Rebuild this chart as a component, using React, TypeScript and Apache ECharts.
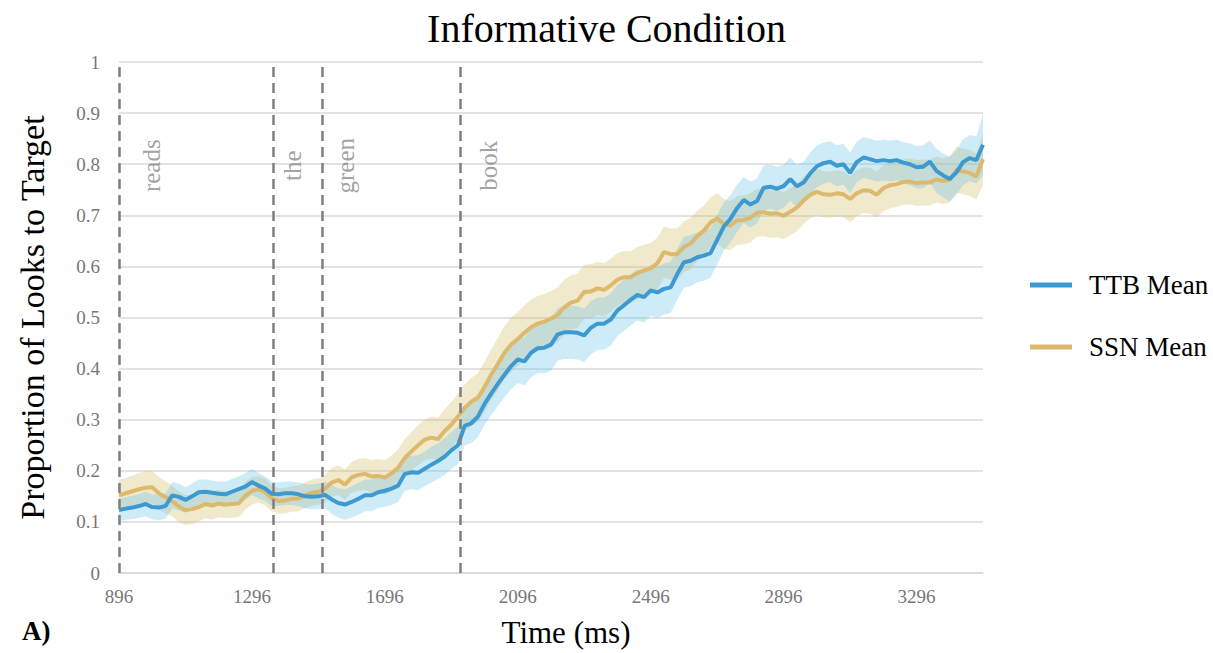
import React, { useEffect, useRef } from "react";
import * as echarts from "echarts";

const times = [
  896, 916, 936, 956, 976, 996, 1016, 1036, 1056, 1076, 1096, 1116, 1136, 1156, 1176, 1196, 1216, 1236, 1256, 1276, 1296,
  1316, 1336, 1356, 1376, 1396, 1416, 1436, 1456, 1476, 1496, 1516, 1536, 1556, 1576, 1596, 1616, 1636, 1656, 1676, 1696, 1716,
  1736, 1756, 1776, 1796, 1816, 1836, 1856, 1876, 1896, 1916, 1936, 1956, 1976, 1996, 2016, 2036, 2056, 2076, 2096, 2116, 2136,
  2156, 2176, 2196, 2216, 2236, 2256, 2276, 2296, 2316, 2336, 2356, 2376, 2396, 2416, 2436, 2456, 2476, 2496, 2516, 2536, 2556,
  2576, 2596, 2616, 2636, 2656, 2676, 2696, 2716, 2736, 2756, 2776, 2796, 2816, 2836, 2856, 2876, 2896, 2916, 2936, 2956, 2976,
  2996, 3016, 3036, 3056, 3076, 3096, 3116, 3136, 3156, 3176, 3196, 3216, 3236, 3256, 3276, 3296, 3316, 3336, 3356, 3376, 3396,
  3416, 3436, 3456, 3476, 3496,
];

const ttbMean = [
  0.123, 0.126, 0.128, 0.131, 0.135, 0.129, 0.128, 0.131, 0.152, 0.149, 0.143, 0.15, 0.158, 0.159, 0.157, 0.155, 0.154, 0.159, 0.164, 0.169, 0.178,
  0.171, 0.165, 0.155, 0.154, 0.156, 0.156, 0.154, 0.15, 0.149, 0.15, 0.153, 0.144, 0.137, 0.134, 0.139, 0.145, 0.152, 0.152, 0.158, 0.161, 0.165,
  0.171, 0.194, 0.197, 0.196, 0.204, 0.212, 0.219, 0.228, 0.24, 0.25, 0.288, 0.293, 0.306, 0.331, 0.351, 0.37, 0.388, 0.405, 0.418, 0.414, 0.431,
  0.44, 0.441, 0.447, 0.467, 0.471, 0.471, 0.47, 0.465, 0.48, 0.488, 0.488, 0.496, 0.514, 0.524, 0.535, 0.544, 0.54, 0.553, 0.549, 0.556, 0.559,
  0.585, 0.608, 0.611, 0.618, 0.621, 0.626, 0.652, 0.678, 0.693, 0.714, 0.73, 0.721, 0.728, 0.754, 0.756, 0.752, 0.757, 0.771, 0.757, 0.764, 0.782,
  0.796, 0.802, 0.805, 0.797, 0.8, 0.783, 0.804, 0.813, 0.81, 0.806, 0.808, 0.806, 0.808, 0.803, 0.8, 0.794, 0.795, 0.805, 0.787, 0.778, 0.771,
  0.784, 0.804, 0.812, 0.808, 0.838,
];

const ttbErr = [
  0.022, 0.022, 0.023, 0.023, 0.024, 0.024, 0.025, 0.025, 0.026, 0.026, 0.025, 0.025, 0.025, 0.024, 0.024, 0.024, 0.025, 0.025, 0.025, 0.026, 0.026,
  0.025, 0.024, 0.024, 0.023, 0.023, 0.023, 0.023, 0.024, 0.024, 0.025, 0.026, 0.028, 0.029, 0.03, 0.031, 0.031, 0.031, 0.031, 0.031, 0.031, 0.032,
  0.032, 0.033, 0.033, 0.034, 0.034, 0.035, 0.035, 0.036, 0.036, 0.037, 0.038, 0.039, 0.04, 0.041, 0.042, 0.043, 0.044, 0.045, 0.046, 0.047, 0.048,
  0.049, 0.05, 0.051, 0.051, 0.052, 0.052, 0.052, 0.052, 0.052, 0.051, 0.051, 0.051, 0.05, 0.05, 0.05, 0.05, 0.05, 0.05, 0.05, 0.05, 0.05,
  0.05, 0.05, 0.05, 0.049, 0.049, 0.048, 0.048, 0.047, 0.046, 0.046, 0.045, 0.045, 0.044, 0.044, 0.043, 0.043, 0.042, 0.042, 0.042, 0.041, 0.041,
  0.041, 0.04, 0.04, 0.04, 0.04, 0.04, 0.04, 0.04, 0.04, 0.04, 0.04, 0.04, 0.04, 0.04, 0.041, 0.041, 0.042, 0.042, 0.043, 0.043, 0.044,
  0.044, 0.045, 0.045, 0.046, 0.06,
];

const ssnMean = [
  0.152, 0.156, 0.16, 0.164, 0.167, 0.168, 0.156, 0.148, 0.141, 0.13, 0.123, 0.125, 0.129, 0.135, 0.132, 0.136, 0.134, 0.135, 0.136, 0.151, 0.161,
  0.164, 0.158, 0.146, 0.141, 0.142, 0.145, 0.146, 0.152, 0.157, 0.159, 0.165, 0.177, 0.182, 0.173, 0.187, 0.192, 0.194, 0.189, 0.19, 0.187, 0.195,
  0.206, 0.225, 0.238, 0.25, 0.261, 0.265, 0.262, 0.278, 0.29, 0.306, 0.323, 0.335, 0.343, 0.364, 0.388, 0.409, 0.431, 0.447, 0.458, 0.47, 0.481,
  0.488, 0.492, 0.498, 0.505, 0.52, 0.529, 0.533, 0.55, 0.551, 0.557, 0.554, 0.563, 0.574, 0.579, 0.579, 0.587, 0.592, 0.596, 0.606, 0.628, 0.624,
  0.624, 0.638, 0.645, 0.659, 0.67, 0.686, 0.694, 0.683, 0.68, 0.69, 0.691, 0.695, 0.705, 0.706, 0.703, 0.704, 0.699, 0.707, 0.715, 0.729, 0.74,
  0.746, 0.741, 0.74, 0.743, 0.741, 0.732, 0.743, 0.749, 0.748, 0.74, 0.753, 0.759, 0.761, 0.765, 0.766, 0.763, 0.764, 0.764, 0.77, 0.767, 0.77,
  0.789, 0.786, 0.783, 0.776, 0.81,
];

const ssnErr = [
  0.03, 0.03, 0.031, 0.031, 0.032, 0.032, 0.032, 0.031, 0.03, 0.03, 0.029, 0.029, 0.028, 0.028, 0.028, 0.027, 0.027, 0.027, 0.027, 0.027, 0.027,
  0.026, 0.026, 0.025, 0.025, 0.025, 0.025, 0.025, 0.025, 0.026, 0.026, 0.027, 0.028, 0.029, 0.03, 0.03, 0.031, 0.031, 0.032, 0.033, 0.034, 0.035,
  0.036, 0.037, 0.038, 0.039, 0.04, 0.041, 0.042, 0.043, 0.044, 0.045, 0.046, 0.047, 0.048, 0.049, 0.05, 0.051, 0.052, 0.053, 0.053, 0.054, 0.054,
  0.054, 0.054, 0.054, 0.054, 0.054, 0.053, 0.053, 0.053, 0.053, 0.052, 0.052, 0.052, 0.052, 0.051, 0.051, 0.051, 0.05, 0.05, 0.05, 0.05, 0.05,
  0.05, 0.05, 0.05, 0.05, 0.049, 0.049, 0.049, 0.049, 0.048, 0.048, 0.048, 0.048, 0.047, 0.047, 0.047, 0.047, 0.046, 0.046, 0.046, 0.046, 0.046,
  0.046, 0.045, 0.045, 0.045, 0.045, 0.045, 0.045, 0.045, 0.045, 0.045, 0.045, 0.045, 0.045, 0.045, 0.045, 0.045, 0.045, 0.045, 0.045, 0.045, 0.045,
  0.045, 0.045, 0.045, 0.045, 0.05,
];

// word onsets (ms) marked by dashed lines
const onsetTimes = [896, 1361, 1509, 1923];
// word annotations: text, time (ms) and proportion where the text is centred
const wordTexts = ["reads", "the", "green", "book"];
const wordTimes = [993, 1419, 1579, 2008];
const wordLevels = [0.797, 0.797, 0.797, 0.797];

const SERIF = "'Liberation Serif', 'Times New Roman', serif";
const TTB_COLOR = "#3d9ad1";
const SSN_COLOR = "#dcb96c";

function bandSeries(key: string, mean: number[], err: number[], fill: string) {
  return {
    type: "custom",
    name: key + "_band",
    silent: true,
    z: 1,
    clip: true,
    data: times.map((t, i) => [t, mean[i] - err[i], mean[i] + err[i]]),
    encode: { x: 0, y: [1, 2] },
    renderItem: (params: any, api: any) => {
      if (params.dataIndex !== 0) return null;
      const upper: number[][] = [];
      const lower: number[][] = [];
      for (let i = 0; i < times.length; i++) {
        upper.push(api.coord([times[i], mean[i] + err[i]]));
        lower.push(api.coord([times[i], mean[i] - err[i]]));
      }
      const points = upper.concat(lower.reverse());
      return {
        type: "polygon",
        shape: { points },
        style: { fill, stroke: "none" },
      };
    },
  };
}

export default function App() {
  const ref = useRef<HTMLDivElement>(null);
  useEffect(() => {
    if (!ref.current) return;
    const chart = echarts.init(ref.current, undefined, { renderer: "svg" });
    const option: any = {
      animation: false,
      backgroundColor: "#ffffff",
      title: {
        text: "Informative Condition",
        left: "center",
        top: 3,
        textStyle: { fontFamily: SERIF, fontSize: 40, fontWeight: "normal", color: "#000" },
      },
      legend: {
        orient: "vertical",
        left: 1025,
        top: 265,
        itemWidth: 42,
        itemHeight: 5,
        itemGap: 32,
        data: [
          { name: "TTB Mean", icon: "rect" },
          { name: "SSN Mean", icon: "rect" },
        ],
        textStyle: { fontFamily: SERIF, fontSize: 27, color: "#000", padding: [0, 0, 0, 12], lineHeight: 30 },
      },
      grid: { left: 119, right: 230, top: 62, bottom: 76, containLabel: false },
      xAxis: {
        type: "value",
        min: 896,
        max: 3496,
        interval: 400,
        name: "Time (ms)",
        nameLocation: "middle",
        nameGap: 44,
        nameTextStyle: { fontFamily: SERIF, fontSize: 31, color: "#000", padding: [0, 0, 0, 30] },
        axisLine: { show: true, lineStyle: { color: "#d9d9d9", width: 1.5 } },
        axisTick: { show: false },
        splitLine: { show: false },
        axisLabel: {
          showMaxLabel: false,
          margin: 14,
          fontFamily: SERIF,
          fontSize: 19,
          color: "#777",
          formatter: (v: number) => String(v),
        },
      },
      yAxis: {
        type: "value",
        min: 0,
        max: 1,
        interval: 0.1,
        name: "Proportion of Looks to Target",
        nameLocation: "middle",
        nameGap: 70,
        nameTextStyle: { fontFamily: SERIF, fontSize: 34, color: "#000" },
        axisLine: { show: false },
        axisTick: { show: false },
        splitLine: { lineStyle: { color: "#d9d9d9", width: 1.5 } },
        axisLabel: { margin: 19, fontFamily: SERIF, fontSize: 19, color: "#777" },
      },
      graphic: [
        {
          type: "text",
          left: 22,
          top: 617,
          style: { text: "A)", font: "bold 27px " + SERIF, fill: "#000" },
        },
      ],
      series: [
        bandSeries("ssn", ssnMean, ssnErr, "rgba(215,195,110,0.36)"),
        bandSeries("ttb", ttbMean, ttbErr, "rgba(110,195,235,0.34)"),
        {
          type: "line",
          name: "SSN Mean",
          data: times.map((t, i) => [t, ssnMean[i]]),
          symbol: "none",
          color: SSN_COLOR,
          lineStyle: { color: SSN_COLOR, width: 4 },
          z: 3,
        },
        {
          type: "line",
          name: "TTB Mean",
          data: times.map((t, i) => [t, ttbMean[i]]),
          symbol: "none",
          color: TTB_COLOR,
          lineStyle: { color: TTB_COLOR, width: 4 },
          z: 4,
          markLine: {
            silent: true,
            symbol: "none",
            label: { show: false },
            lineStyle: { color: "#7f7f7f", width: 2.5, type: [10, 6] },
            data: onsetTimes.map((t) => ({ xAxis: t })),
          },
        },
        {
          type: "scatter",
          name: "words",
          symbolSize: 0,
          silent: true,
          data: wordTimes.map((t, i) => [t, wordLevels[i], wordTexts[i]]),
          label: {
            show: true,
            position: "inside",
            rotate: 90,
            formatter: (p: any) => p.data[2],
            fontFamily: SERIF,
            fontSize: 25,
            color: "#8a8a8a",
          },
          z: 5,
        },
      ],
    };
    chart.setOption(option);
    return () => chart.dispose();
  }, []);
  return (
    <div
      ref={ref}
      style={{ position: "fixed", left: 0, top: 0, width: 1213, height: 653, background: "#fff" }}
    />
  );
}
